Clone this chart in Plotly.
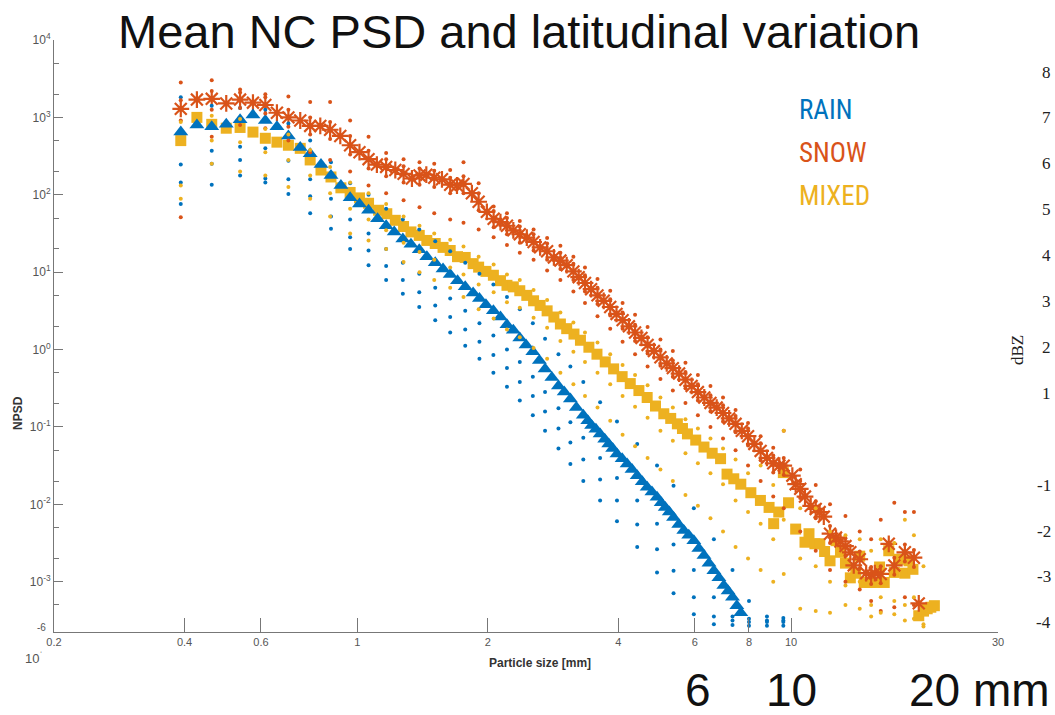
import plotly.graph_objects as go

# ---------------- data (NPSD, stored as log10 values) ----------------
rain_d = [0.392, 0.427, 0.462, 0.499, 0.537, 0.575, 0.614, 0.653, 0.694, 0.739, 0.779, 0.825,
          0.87, 0.917, 0.963, 1.012, 1.062, 1.114, 1.166, 1.217, 1.274, 1.33, 1.39, 1.447,
          1.513, 1.577, 1.638, 1.703, 1.774, 1.85, 1.913, 1.98, 2.06, 2.139, 2.214, 2.29,
          2.37, 2.45, 2.54, 2.63, 2.71, 2.81, 2.91, 3.0, 3.10, 3.20, 3.32, 3.40, 3.47, 3.55,
          3.63, 3.72, 3.80, 3.88, 3.97, 4.08, 4.19, 4.30, 4.42, 4.54, 4.66, 4.78, 4.91, 5.02,
          5.13, 5.24, 5.36, 5.51, 5.66, 5.81, 5.97, 6.13, 6.30, 6.47, 6.64, 6.82, 7.0, 7.16,
          7.33, 7.50, 7.66]
rain_log = [2.81, 2.90, 2.88, 2.91, 2.97, 3.03, 2.96, 2.88, 2.76, 2.61, 2.53, 2.39,
            2.25, 2.12, 1.96, 1.88, 1.80, 1.69, 1.60, 1.52, 1.43, 1.36, 1.29, 1.20,
            1.12, 1.04, 0.97, 0.89, 0.81, 0.73, 0.66, 0.58, 0.50, 0.42, 0.32, 0.25,
            0.15, 0.06, -0.03, -0.14, -0.25, -0.36, -0.47, -0.55, -0.64, -0.75, -0.85, -0.92, -0.98, -1.03,
            -1.09, -1.16, -1.22, -1.28, -1.35, -1.41, -1.48, -1.55, -1.63, -1.71, -1.78, -1.84, -1.91, -1.98,
            -2.04, -2.10, -2.17, -2.26, -2.34, -2.40, -2.47, -2.57, -2.66, -2.76, -2.86, -2.95, -3.05, -3.12,
            -3.20, -3.31, -3.40]

snow_d = [0.392, 0.427, 0.462, 0.499, 0.537, 0.575, 0.614, 0.653, 0.694, 0.739, 0.779, 0.822,
          0.866, 0.914, 0.963, 1.012, 1.062, 1.11, 1.166, 1.224, 1.279, 1.337, 1.392, 1.443,
          1.505, 1.568, 1.638, 1.698, 1.758, 1.838, 1.905, 1.99, 2.063, 2.139, 2.214, 2.29,
          2.37, 2.46, 2.55, 2.64, 2.74, 2.84, 2.94, 3.04, 3.15, 3.24, 3.35, 3.46, 3.58, 3.70,
          3.83, 3.96, 4.09, 4.23, 4.37, 4.52, 4.67, 4.83, 5.00, 5.17, 5.34, 5.52, 5.71, 5.90,
          6.10, 6.31, 6.52, 6.74, 6.97, 7.20, 7.45, 7.70, 7.96, 8.23, 8.51, 8.80, 9.10, 9.40,
          9.62, 10.07, 10.25, 10.5, 10.77, 11.1, 11.4, 11.64, 11.9, 12.3, 12.7, 13.0, 13.35,
          13.7, 13.95, 14.4, 14.9, 15.3, 15.6, 16.1, 16.8, 17.3, 18.3, 19.2, 19.7]
snow_log = [3.11, 3.23, 3.24, 3.18, 3.23, 3.19, 3.16, 3.06, 3.00, 2.96, 2.89, 2.89,
            2.84, 2.76, 2.64, 2.55, 2.46, 2.39, 2.36, 2.32, 2.27, 2.21, 2.25, 2.26,
            2.22, 2.20, 2.13, 2.12, 2.14, 2.02, 1.91, 1.78, 1.69, 1.647, 1.60, 1.54,
            1.49, 1.445, 1.39, 1.32, 1.27, 1.19, 1.15, 1.09, 1.01, 0.935, 0.86, 0.78, 0.70, 0.63,
            0.55, 0.46, 0.38, 0.30, 0.22, 0.15, 0.06, -0.02, -0.10, -0.18, -0.24, -0.31, -0.39, -0.47,
            -0.55, -0.62, -0.69, -0.75, -0.82, -0.89, -0.96, -1.05, -1.12, -1.22, -1.31, -1.40, -1.47, -1.50,
            -1.50, -1.63, -1.74, -1.80, -1.90, -2.02, -2.06, -2.10, -2.16, -2.38, -2.43, -2.48, -2.54,
            -2.62, -2.79, -2.71, -2.89, -2.91, -2.89, -2.90, -2.51, -2.79, -2.62, -2.69, -3.28]

mixed_d = [0.392, 0.427, 0.462, 0.499, 0.537, 0.575, 0.614, 0.653, 0.694, 0.739, 0.779, 0.825,
           0.87, 0.917, 0.963, 1.012, 1.062, 1.12, 1.17, 1.224, 1.279, 1.33, 1.39, 1.447,
           1.513, 1.577, 1.638, 1.703, 1.774, 1.85, 1.905, 1.98, 2.06, 2.139, 2.214, 2.29,
           2.37, 2.46, 2.55, 2.64, 2.74, 2.84, 2.94, 3.04, 3.16, 3.27, 3.42, 3.57, 3.73, 3.90,
           4.08, 4.26, 4.46, 4.66, 4.87, 5.09, 5.28, 5.47, 5.62, 5.77, 6.03, 6.30, 6.58, 6.88,
           7.12, 7.38, 7.66, 8.08, 8.5, 8.9, 9.12, 9.37, 9.6, 9.87, 10.25, 10.77, 11.0, 11.35,
           11.65, 11.95, 12.3, 12.7, 13.0, 13.35, 13.7, 14.1, 14.4, 14.75, 15.2, 15.6, 16.0,
           16.4, 16.8, 17.3, 17.7, 18.3, 18.7, 19.1, 19.7, 20.2, 20.6, 21.0, 21.4]
mixed_log = [2.70, 3.00, 2.91, 2.86, 2.87, 2.81, 2.73, 2.68, 2.64, 2.60, 2.45, 2.32,
             2.23, 2.09, 2.03, 1.96, 1.89, 1.80, 1.755, 1.67, 1.59, 1.52, 1.475, 1.41,
             1.37, 1.32, 1.28, 1.20, 1.19, 1.11, 1.065, 1.01, 0.96, 0.89, 0.83, 0.81,
             0.76, 0.70, 0.63, 0.57, 0.50, 0.42, 0.33, 0.27, 0.20, 0.12, 0.03, -0.06, -0.16, -0.25,
             -0.35, -0.44, -0.53, -0.62, -0.73, -0.83, -0.89, -0.96, -1.02, -1.09, -1.17, -1.26, -1.34, -1.41,
             -1.61, -1.67, -1.74, -1.85, -1.95, -2.04, -2.25, -2.10, -1.59, -1.98, -2.32, -2.49, -2.38, -2.51,
             -2.51, -2.61, -2.73, -2.47, -2.62, -2.76, -2.95, -2.89, -2.67, -3.01, -3.01, -3.01, -2.81,
             -3.01, -2.60, -2.88, -2.71, -2.89, -2.73, -2.84, -3.44, -3.38, -3.35, -3.33, -3.31]

# latitude-band curves (small dots)
rain_dot_d = [0.392, 0.462, 0.537, 0.614, 0.694, 0.779, 0.87, 0.963, 1.062, 1.166, 1.274, 1.39,
              1.513, 1.638, 1.774, 1.913, 2.06, 2.214, 2.37, 2.54, 2.71, 2.91, 3.10, 3.32,
              3.63, 3.97, 4.42, 4.91, 5.36, 5.97, 6.64, 7.33, 8.0, 8.8, 9.6]
rain_dot_1 = [3.26, 3.15, 3.12, 3.10, 2.92, 2.70, 2.42, 2.15, 2.00, 1.82, 1.68, 1.55,
              1.40, 1.27, 1.12, 0.98, 0.84, 0.68, 0.52, 0.34, 0.14, -0.06, -0.22, -0.42,
              -0.68, -0.93, -1.22, -1.50, -1.76, -2.05, -2.45, -2.85, -3.25, -3.45, -3.47]
rain_dot_2 = [2.39, 2.57, 2.62, 2.60, 2.44, 2.20, 1.95, 1.68, 1.50, 1.30, 1.12, 0.98,
              0.80, 0.66, 0.50, 0.34, 0.18, 0.00, -0.16, -0.35, -0.55, -0.76, -0.94, -1.14,
              -1.40, -1.66, -1.95, -2.25, -2.52, -2.85, -3.20, -3.45, -3.48, -3.50, -3.50]
rain_dot_3 = [2.16, 2.40, 2.45, 2.16, 2.20, 1.98, 1.72, 1.45, 1.28, 1.08, 0.90, 0.74,
              0.57, 0.42, 0.26, 0.10, -0.07, -0.24, -0.42, -0.60, -0.80, -1.02, -1.20, -1.42,
              -1.68, -1.95, -2.26, -2.58, -2.86, -3.20, -3.45, -3.50, -3.52, -3.52, -3.52]
rain_dot_4 = [1.88, 2.13, 2.25, 2.21, 2.01, 1.76, 1.56, 1.30, 1.09, 0.90, 0.72, 0.55,
              0.38, 0.22, 0.05, -0.12, -0.30, -0.48, -0.66, -0.85, -1.05, -1.28, -1.48, -1.70,
              -1.95, -2.22, -2.55, -2.88, -3.15, -3.42, -3.55, -3.56, -3.57, -3.57, -3.57]

snow_dot_d = [0.392, 0.462, 0.537, 0.614, 0.694, 0.779, 0.866, 0.963, 1.062, 1.166, 1.279, 1.392,
              1.505, 1.638, 1.758, 1.905, 2.063, 2.214, 2.37, 2.55, 2.74, 2.94, 3.15, 3.35,
              3.58, 3.83, 4.09, 4.37, 4.67, 5.0, 5.34, 5.71, 6.10, 6.52, 6.97, 7.45, 7.96,
              8.51, 9.10, 9.62, 10.5, 11.4, 12.3, 13.35, 14.4, 15.3, 16.1, 17.3, 18.3, 19.2]
snow_dot_1 = [3.45, 3.48, 3.36, 3.30, 3.27, 3.20, 3.20, 2.96, 2.75, 2.54, 2.46, 2.42,
              2.40, 2.32, 2.42, 2.15, 1.85, 1.76, 1.66, 1.55, 1.44, 1.34, 1.20, 1.06,
              0.91, 0.76, 0.60, 0.45, 0.29, 0.13, -0.02, -0.17, -0.33, -0.47, -0.62, -0.78, -0.95,
              -1.12, -1.27, -1.05, -1.55, -1.75, -2.00, -2.15, -2.35, -2.45, -2.20, -1.98, -2.10, -2.10]
snow_dot_2 = [3.22, 3.34, 3.32, 3.26, 3.10, 3.00, 2.94, 2.76, 2.57, 2.46, 2.37, 2.34,
              2.31, 2.22, 2.24, 2.02, 1.79, 1.70, 1.59, 1.49, 1.37, 1.25, 1.11, 0.96,
              0.80, 0.65, 0.48, 0.32, 0.16, 0.00, -0.14, -0.29, -0.45, -0.59, -0.72, -0.86, -1.02,
              -1.21, -1.37, -1.40, -1.70, -1.96, -2.28, -2.44, -2.61, -2.81, -2.80, -2.69, -2.52, -2.59]
snow_dot_3 = [2.96, 3.10, 3.12, 3.05, 2.88, 2.78, 2.72, 2.52, 2.34, 2.24, 2.16, 2.13,
              2.10, 2.02, 2.02, 1.80, 1.58, 1.49, 1.38, 1.28, 1.16, 1.04, 0.90, 0.75,
              0.59, 0.44, 0.27, 0.11, -0.05, -0.21, -0.35, -0.50, -0.66, -0.80, -0.93, -1.07, -1.24,
              -1.43, -1.59, -1.62, -1.92, -2.18, -2.50, -2.66, -2.83, -3.03, -3.02, -2.91, -2.74, -2.81]
snow_dot_4 = [1.71, 2.75, 2.90, 2.86, 2.70, 2.55, 2.45, 2.30, 2.12, 2.02, 1.93, 1.84,
              1.76, 1.68, 1.64, 1.55, 1.45, 1.35, 1.25, 1.16, 1.02, 0.90, 0.75, 0.60,
              0.43, 0.27, 0.10, -0.06, -0.22, -0.38, -0.53, -0.69, -0.85, -1.00, -1.15, -1.30, -1.50,
              -1.70, -1.90, -2.05, -2.35, -2.60, -2.85, -3.00, -3.10, -3.25, -3.38, -3.33, -3.20, -3.30]

mixed_dot_d = [0.392, 0.462, 0.537, 0.614, 0.694, 0.779, 0.866, 0.963, 1.062, 1.166, 1.279, 1.392,
               1.505, 1.638, 1.758, 1.905, 2.063, 2.214, 2.37, 2.55, 2.74, 2.94, 3.15, 3.35,
               3.58, 3.83, 4.09, 4.37, 4.67, 5.0, 5.34, 5.71, 6.10, 6.52, 6.97, 7.45, 7.96,
               8.51, 9.10, 9.62, 10.5, 11.4, 12.3, 13.35, 14.4, 15.3, 16.1, 17.3, 18.3, 19.2, 20.2]
mixed_dot_1 = [2.94, 3.02, 2.98, 2.85, 2.78, 2.58, 2.36, 2.16, 2.02, 1.88, 1.72, 1.60,
               1.50, 1.42, 1.33, 1.20, 1.10, 0.97, 0.90, 0.77, 0.64, 0.48, 0.35, 0.22,
               0.09, -0.06, -0.20, -0.33, -0.46, -0.62, -0.75, -0.90, -1.02, -1.15, -1.28, -1.42, -1.60,
               -1.50, -1.75, -1.05, -2.05, -2.05, -2.35, -2.40, -2.45, -2.60, -2.45, -2.50, -2.20, -2.40, -2.80]
mixed_dot_2 = [2.12, 2.70, 2.68, 2.55, 2.45, 2.25, 2.02, 1.82, 1.68, 1.54, 1.38, 1.26,
               1.16, 1.06, 0.97, 0.84, 0.74, 0.61, 0.54, 0.41, 0.28, 0.11, -0.03, -0.16,
               -0.30, -0.45, -0.60, -0.74, -0.88, -1.05, -1.18, -1.34, -1.47, -1.60, -1.74, -1.95, -2.10,
               -2.25, -2.45, -2.20, -2.70, -2.80, -3.00, -3.05, -3.00, -3.30, -3.20, -3.25, -3.30, -3.20, -3.55]
mixed_dot_3 = [1.95, 2.40, 2.30, 2.25, 2.10, 1.95, 1.72, 1.50, 1.41, 1.30, 1.13, 1.00,
               0.90, 0.80, 0.68, 0.52, 0.40, 0.26, 0.16, 0.02, -0.12, -0.30, -0.45, -0.60,
               -0.75, -0.92, -1.10, -1.25, -1.40, -1.55, -1.70, -1.88, -2.02, -2.18, -2.35, -2.55, -2.70,
               -2.85, -3.00, -2.90, -3.35, -3.38, -3.40, -3.30, -3.35, -3.45, -3.40, -3.42, -3.50, -3.48, -3.58]

x_tick_vals = [0.2, 0.4, 0.6, 1, 2, 4, 6, 8, 10, 30]
x_tick_text = ["0.2", "0.4", "0.6", "1", "2", "4", "6", "8", "10", "30"]
y_tick_exps = [4, 3, 2, 1, 0, -1, -2, -3]
dbz_labels = ["8", "7", "6", "5", "4", "3", "2", "1", "-1", "-2", "-3", "-4"]
dbz_levels = [8, 7, 6, 5, 4, 3, 2, 1, -1, -2, -3, -4]
legend_names = ["RAIN", "SNOW", "MIXED"]

# ---------------- styling ----------------
BLUE, ORANGE, YELLOW = "#0072BD", "#D95319", "#EDB120"
W, H = 1055, 715
L, R, T, B = 54, 998, 40, 632  # plot area in pixels


def px(x):
    return (x - L) / (R - L)


def py(y):
    return (B - y) / (B - T)


def val(logs):
    return [10 ** v for v in logs]


fig = go.Figure()

# main curves
fig.add_trace(go.Scatter(x=mixed_d, y=val(mixed_log), mode="markers",
                         marker=dict(symbol="square", size=11, color=YELLOW, line=dict(width=0))))
fig.add_trace(go.Scatter(x=snow_d, y=val(snow_log), mode="markers",
                         marker=dict(symbol="asterisk-open", size=14, color=ORANGE,
                                     line=dict(width=2.2, color=ORANGE))))
fig.add_trace(go.Scatter(x=rain_d, y=val(rain_log), mode="markers",
                         marker=dict(symbol="triangle-up", size=13, color=BLUE, line=dict(width=0))))

# dotted latitude curves
for d, series, col in [
    (rain_dot_d, [rain_dot_1, rain_dot_2, rain_dot_3, rain_dot_4], BLUE),
    (snow_dot_d, [snow_dot_1, snow_dot_2, snow_dot_3, snow_dot_4], ORANGE),
    (mixed_dot_d, [mixed_dot_1, mixed_dot_2, mixed_dot_3], YELLOW),
]:
    for s in series:
        fig.add_trace(go.Scatter(x=d, y=val(s), mode="markers",
                                 marker=dict(symbol="circle", size=4, color=col, line=dict(width=0))))

axis_font = dict(family="Liberation Sans Narrow, Liberation Sans", size=11, color="#555")

fig.update_xaxes(type="log", range=[-0.69897, 1.4771], tickvals=x_tick_vals, ticktext=x_tick_text,
                 ticks="inside", ticklen=14, tickcolor="#777", tickwidth=1,
                 showline=True, linecolor="#777", linewidth=1, showgrid=False, zeroline=False,
                 tickfont=axis_font)
fig.update_yaxes(type="log", range=[-3.65, 4],
                 tickvals=[10 ** e for e in y_tick_exps],
                 ticktext=["10<sup>%d</sup>" % e for e in y_tick_exps],
                 ticks="inside", ticklen=9, tickcolor="#777", tickwidth=1,
                 minor=dict(ticks="inside", ticklen=5, tickcolor="#777", showgrid=False),
                 showline=True, linecolor="#777", linewidth=1, showgrid=False, zeroline=False,
                 tickfont=dict(family="Liberation Sans Narrow, Liberation Sans", size=12, color="#555"))

ann = []
ann.append(dict(text="Mean NC PSD and latitudinal variation", x=px(519), y=py(31),
                font=dict(family="Liberation Sans", size=47, color="#111")))
ann.append(dict(text="<b>NPSD</b>", x=px(18), y=py(413), textangle=-90,
                font=dict(family="Liberation Sans", size=12, color="#333")))
ann.append(dict(text="<b>Particle size [mm]</b>", x=px(540), y=py(663),
                font=dict(family="Liberation Sans Narrow, Liberation Sans", size=12, color="#333")))
ann.append(dict(text="-6", x=px(48), y=py(627), xanchor="right",
                font=dict(family="Liberation Sans", size=10, color="#555")))
ann.append(dict(text="10<sup>ˈ</sup>", x=px(45), y=py(658), xanchor="right",
                font=dict(family="Liberation Sans Narrow, Liberation Sans", size=13, color="#555")))
for name, col, yy in zip(legend_names, [BLUE, ORANGE, YELLOW], [110, 153, 196]):
    ann.append(dict(text=name, x=px(797), y=py(yy), xanchor="left",
                    font=dict(family="Liberation Sans Narrow, Roboto Condensed, Liberation Sans",
                              size=27, color=col)))
for lab, lv in zip(dbz_labels, dbz_levels):
    yy = 72 + 45.9 * (8 - lv)
    ann.append(dict(text=lab, x=px(1053), y=py(yy), xanchor="right",
                    font=dict(family="Liberation Serif", size=17, color="#222")))
ann.append(dict(text="dBZ", x=px(1017), y=py(350), textangle=-90,
                font=dict(family="Liberation Serif", size=17, color="#222")))
for txt, cx in [("6", 698), ("10", 791), ("20 mm", 979)]:
    ann.append(dict(text=txt, x=px(cx), y=py(690),
                    font=dict(family="Liberation Sans", size=46, color="#111")))

for a in ann:
    a.update(xref="paper", yref="paper", showarrow=False)
    a.setdefault("xanchor", "center")
    a.setdefault("yanchor", "middle")

fig.update_layout(width=W, height=H, margin=dict(l=L, r=W - R, t=T, b=H - B),
                  paper_bgcolor="white", plot_bgcolor="white", showlegend=False,
                  annotations=ann)

fig.write_html("out.html")
